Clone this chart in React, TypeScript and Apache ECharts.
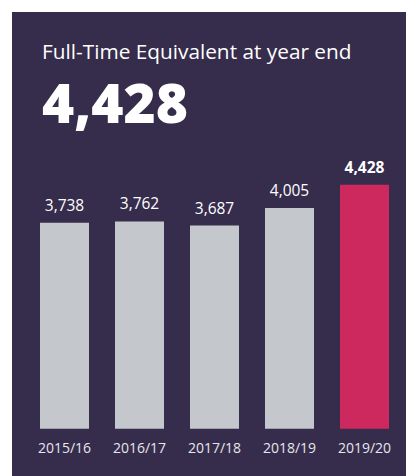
import React, { useEffect, useRef } from "react";
import * as echarts from "echarts";

const categories = ["2015/16", "2016/17", "2017/18", "2018/19", "2019/20"];
const values = [3738, 3762, 3687, 4005, 4428];
const highlightIndex = 4;
const titleText = "Full-Time Equivalent at year end";
const headlineText = "4,428";

const BG = "#362c4b";
const GREY = "#c4c8cc";
const PINK = "#cd295e";
const FONT = "'Open Sans', 'Noto Sans', sans-serif";

export default function App() {
  const ref = useRef<HTMLDivElement>(null);
  useEffect(() => {
    if (!ref.current) return;
    const chart = echarts.init(ref.current, null, { renderer: "svg" });
    chart.setOption({
      animation: false,
      backgroundColor: "#ffffff",
      graphic: [
        { type: "rect", z: -10, shape: { x: 12, y: 12, width: 394, height: 464 }, style: { fill: BG } },
        {
          type: "text", left: 42, top: 40,
          style: { text: titleText, fill: "#ffffff", font: `500 20.8px ${FONT}`, lineHeight: 22 },
        },
        {
          type: "text", left: 42, top: 74,
          style: { text: headlineText, fill: "#ffffff", font: `800 55px ${FONT}`, lineHeight: 44 },
        },
      ],
      grid: { left: 27, right: 4, top: 184.7, bottom: 47.3, containLabel: false },
      xAxis: {
        type: "category",
        data: categories,
        axisLine: { show: false },
        axisTick: { show: false },
        axisLabel: { color: "#e6e6ec", fontSize: 14, fontFamily: FONT, margin: 12 },
      },
      yAxis: { type: "value", min: 0, max: 4428, show: false, splitLine: { show: false } },
      series: [
        {
          type: "bar",
          barWidth: 49,
          data: values.map((v, i) => ({
            value: v,
            itemStyle: { color: i === highlightIndex ? PINK : GREY },
            label: {
              show: true,
              position: "top",
              distance: 10,
              color: "#ffffff",
              fontSize: 15.5,
              fontFamily: FONT,
              fontWeight: i === highlightIndex ? "bold" : "normal",
              formatter: (p: any) => Number(p.value).toLocaleString("en-US"),
            },
          })),
        },
      ],
    });
    return () => chart.dispose();
  }, []);
  return <div ref={ref} style={{ position: "fixed", left: 0, top: 0, width: 406, height: 476 }} />;
}
